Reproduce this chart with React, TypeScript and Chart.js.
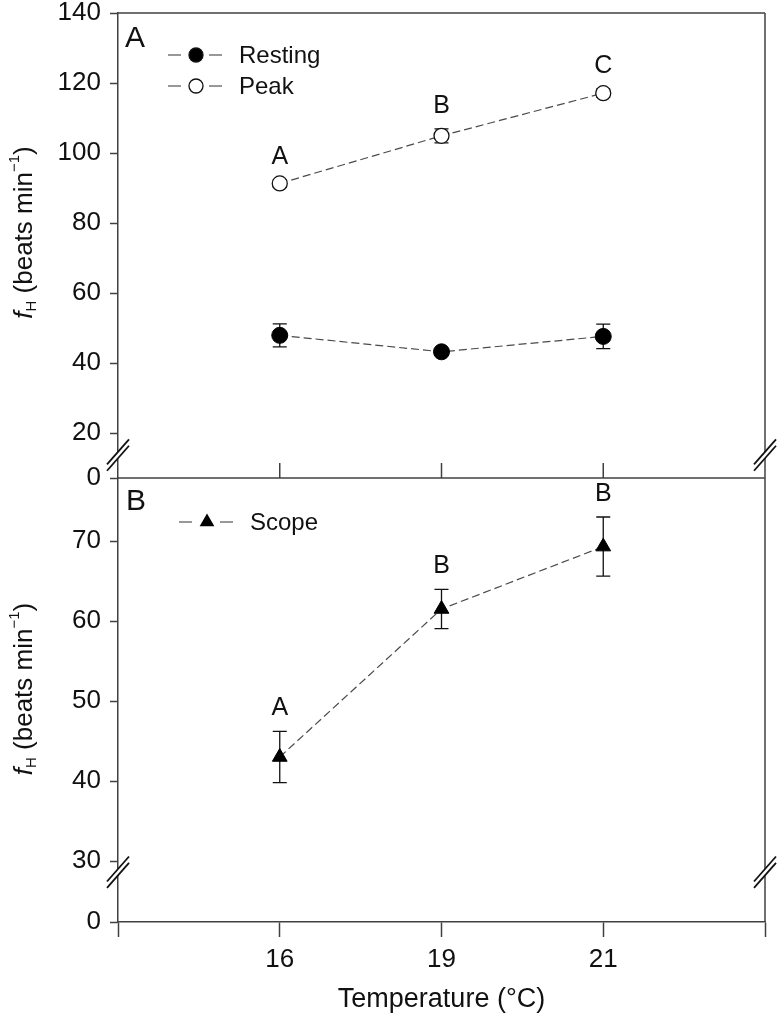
import React, { useEffect, useRef } from "react";
import { Chart, registerables } from "chart.js";

Chart.register(...registerables);

// ---------- data ----------
const temperatures = ["16", "19", "21"];
const restingMean = [47.9, 43.2, 47.6];
const restingSE = [3.3, 1.0, 3.5];
const peakMean = [91.3, 104.9, 117.1];
const peakSE = [1.0, 2.0, 1.2];
const peakLetters = ["A", "B", "C"];
const scopeMean = [43.0, 61.5, 69.3];
const scopeSE = [3.2, 2.45, 3.7];
const scopeLetters = ["A", "B", "B"];
const yTicksA = [20, 40, 60, 80, 100, 120, 140];
const yTicksB = [30, 40, 50, 60, 70];
// broken axes: the lowest value of each axis is labelled "0"
const yMinA = 7.143;
const yMaxA = 140;
const yMinB = 22.375;
const yMaxB = 77.875;
const breakA = 13.7;
const breakB = 28.6;

const FONT = '"Liberation Sans", Arial, Helvetica, sans-serif';
const TXT = "#111";
const AX = "#404040";
const LINE = "#4a4a4a";

Chart.defaults.font.family = FONT;

type Pt = { x: number; y: number };
const toPts = (arr: number[]): Pt[] => arr.map((v, i) => ({ x: i, y: v }));

function drawBreak(ctx: CanvasRenderingContext2D, x: number, y: number) {
  const gap = 3.2;
  const dx = 11;
  const dy = 12.5;
  ctx.save();
  ctx.fillStyle = "#fff";
  ctx.beginPath();
  ctx.moveTo(x - dx, y + dy - gap);
  ctx.lineTo(x + dx, y - dy - gap);
  ctx.lineTo(x + dx, y - dy + gap);
  ctx.lineTo(x - dx, y + dy + gap);
  ctx.closePath();
  ctx.fill();
  ctx.strokeStyle = "#111";
  ctx.lineWidth = 1.8;
  for (const s of [-gap, gap]) {
    ctx.beginPath();
    ctx.moveTo(x - dx, y + dy + s);
    ctx.lineTo(x + dx, y - dy + s);
    ctx.stroke();
  }
  ctx.restore();
}

function drawYTitle(ctx: CanvasRenderingContext2D, cx: number, cy: number) {
  const big = 26;
  const small = 15;
  const parts = [
    { t: "f", font: `italic ${big}px ${FONT}`, dy: 0 },
    { t: "H", font: `${small}px ${FONT}`, dy: 4 },
    { t: " (beats min", font: `${big}px ${FONT}`, dy: 0 },
    { t: "\u22121", font: `${small}px ${FONT}`, dy: -13 },
    { t: ")", font: `${big}px ${FONT}`, dy: 0 },
  ];
  ctx.save();
  let total = 0;
  const widths = parts.map((p) => {
    ctx.font = p.font;
    const w = ctx.measureText(p.t).width;
    total += w;
    return w;
  });
  ctx.translate(cx, cy);
  ctx.rotate(-Math.PI / 2);
  ctx.fillStyle = TXT;
  ctx.textBaseline = "alphabetic";
  ctx.textAlign = "left";
  let u = -total / 2;
  parts.forEach((p, i) => {
    ctx.font = p.font;
    ctx.fillText(p.t, u, 9 + p.dy);
    u += widths[i];
  });
  ctx.restore();
}

function drawMarker(ctx: CanvasRenderingContext2D, kind: string, x: number, y: number) {
  ctx.save();
  ctx.lineWidth = 1.3;
  ctx.strokeStyle = "#111";
  if (kind === "filled" || kind === "open") {
    ctx.beginPath();
    ctx.arc(x, y, 7, 0, Math.PI * 2);
    ctx.fillStyle = kind === "filled" ? "#000" : "#fff";
    ctx.fill();
    ctx.stroke();
  } else {
    const r = 8.5;
    ctx.beginPath();
    ctx.moveTo(x, y - r);
    ctx.lineTo(x + r * 0.866, y + r * 0.5);
    ctx.lineTo(x - r * 0.866, y + r * 0.5);
    ctx.closePath();
    ctx.fillStyle = "#000";
    ctx.fill();
  }
  ctx.restore();
}

function drawLegendRow(
  ctx: CanvasRenderingContext2D,
  kind: string,
  label: string,
  mx: number,
  y: number,
  tx: number
) {
  ctx.save();
  ctx.strokeStyle = "#333";
  ctx.lineWidth = 1.2;
  ctx.beginPath();
  ctx.moveTo(mx - 28, y);
  ctx.lineTo(mx - 15, y);
  ctx.moveTo(mx + 13, y);
  ctx.lineTo(mx + 26, y);
  ctx.stroke();
  drawMarker(ctx, kind, mx, y);
  ctx.fillStyle = TXT;
  ctx.font = `24px ${FONT}`;
  ctx.textBaseline = "middle";
  ctx.textAlign = "left";
  ctx.fillText(label, tx, y + 1);
  ctx.restore();
}

function errorBars(chart: any, means: number[][], ses: number[][]) {
  const ctx: CanvasRenderingContext2D = chart.ctx;
  const xs = chart.scales.x;
  const ys = chart.scales.y;
  ctx.save();
  ctx.strokeStyle = "#111";
  ctx.lineWidth = 1.3;
  means.forEach((m, k) => {
    m.forEach((v, i) => {
      const x = xs.getPixelForValue(i);
      const y1 = ys.getPixelForValue(v + ses[k][i]);
      const y2 = ys.getPixelForValue(v - ses[k][i]);
      ctx.beginPath();
      ctx.moveTo(x, y1);
      ctx.lineTo(x, y2);
      ctx.moveTo(x - 7, y1);
      ctx.lineTo(x + 7, y1);
      ctx.moveTo(x - 7, y2);
      ctx.lineTo(x + 7, y2);
      ctx.stroke();
    });
  });
  ctx.restore();
}

function sigLetters(chart: any, means: number[], ses: number[], letters: string[]) {
  const ctx: CanvasRenderingContext2D = chart.ctx;
  const xs = chart.scales.x;
  const ys = chart.scales.y;
  ctx.save();
  ctx.fillStyle = TXT;
  ctx.font = `25px ${FONT}`;
  ctx.textAlign = "center";
  ctx.textBaseline = "alphabetic";
  letters.forEach((l, i) => {
    const x = xs.getPixelForValue(i);
    const yc = ys.getPixelForValue(means[i] + ses[i]) - 25;
    ctx.fillText(l, x, yc + 9);
  });
  ctx.restore();
}

function line(ctx: CanvasRenderingContext2D, x1: number, y1: number, x2: number, y2: number) {
  ctx.beginPath();
  ctx.moveTo(x1, y1);
  ctx.lineTo(x2, y2);
  ctx.stroke();
}

const panelA = {
  id: "panelA",
  beforeDatasetsDraw(chart: any) {
    errorBars(chart, [restingMean, peakMean], [restingSE, peakSE]);
  },
  afterDraw(chart: any) {
    const ctx: CanvasRenderingContext2D = chart.ctx;
    const { left, right, top, bottom } = chart.chartArea;
    const xs = chart.scales.x;
    const ys = chart.scales.y;
    ctx.save();
    ctx.strokeStyle = AX;
    ctx.lineWidth = 1.5;
    line(ctx, left, top, right, top);
    line(ctx, right, top, right, bottom);
    line(ctx, left, bottom, right, bottom);
    temperatures.forEach((_, i) => {
      const x = xs.getPixelForValue(i);
      line(ctx, x, bottom, x, bottom - 15);
    });
    ctx.restore();
    const yb = ys.getPixelForValue(breakA);
    drawBreak(ctx, left, yb);
    drawBreak(ctx, right, yb);
    sigLetters(chart, peakMean, peakSE, peakLetters);
    drawLegendRow(ctx, "filled", "Resting", 196, 55, 239);
    drawLegendRow(ctx, "open", "Peak", 196, 86, 239);
    ctx.save();
    ctx.fillStyle = TXT;
    ctx.font = `30px ${FONT}`;
    ctx.textAlign = "left";
    ctx.textBaseline = "alphabetic";
    ctx.fillText("A", 125, 47);
    ctx.restore();
    drawYTitle(ctx, 23, (top + bottom) / 2 - 13);
  },
};

const panelB = {
  id: "panelB",
  beforeDatasetsDraw(chart: any) {
    errorBars(chart, [scopeMean], [scopeSE]);
  },
  afterDraw(chart: any) {
    const ctx: CanvasRenderingContext2D = chart.ctx;
    const { left, right, top, bottom } = chart.chartArea;
    const ys = chart.scales.y;
    ctx.save();
    ctx.strokeStyle = AX;
    ctx.lineWidth = 1.5;
    line(ctx, right, top, right, bottom);
    ctx.restore();
    const yb = ys.getPixelForValue(breakB);
    drawBreak(ctx, left, yb);
    drawBreak(ctx, right, yb);
    sigLetters(chart, scopeMean, scopeSE, scopeLetters);
    drawLegendRow(ctx, "tri", "Scope", 207, 522, 250);
    ctx.save();
    ctx.fillStyle = TXT;
    ctx.font = `30px ${FONT}`;
    ctx.textAlign = "left";
    ctx.textBaseline = "alphabetic";
    ctx.fillText("B", 126, 510);
    ctx.restore();
    drawYTitle(ctx, 23, (top + bottom) / 2 - 11);
  },
};

function yAxis(min: number, max: number, ticks: number[]) {
  return {
    type: "linear",
    position: "left",
    min,
    max,
    afterBuildTicks(s: any) {
      s.ticks = [min, ...ticks].map((v) => ({ value: v }));
    },
    afterFit(s: any) {
      s.width = 118;
      s.paddingTop = 0;
      s.paddingBottom = 0;
    },
    ticks: {
      font: { size: 26 },
      color: TXT,
      padding: 9,
      callback: (v: number, i: number) => (i === 0 ? "0" : String(v)),
    },
    grid: {
      drawOnChartArea: false,
      drawTicks: true,
      tickLength: 8,
      color: AX,
      tickWidth: 1.5,
    },
    border: { display: true, color: AX, width: 1.5 },
  };
}

const commonLine = {
  borderColor: LINE,
  borderWidth: 1.2,
  borderDash: [8, 4],
  tension: 0,
  fill: false,
};

function makeA(canvas: HTMLCanvasElement) {
  return new Chart(canvas, {
    type: "line",
    data: {
      datasets: [
        {
          label: "Resting",
          data: toPts(restingMean),
          ...commonLine,
          pointRadius: 8,
          pointBackgroundColor: "#000",
          pointBorderColor: "#000",
          pointBorderWidth: 1,
        },
        {
          label: "Peak",
          data: toPts(peakMean),
          ...commonLine,
          pointRadius: 7.5,
          pointBackgroundColor: "#fff",
          pointBorderColor: "#111",
          pointBorderWidth: 1.3,
        },
      ],
    } as any,
    options: {
      responsive: false,
      animation: false,
      devicePixelRatio: 1,
      events: [],
      layout: { padding: { top: 13, right: 13, bottom: 539, left: 0 } },
      plugins: { legend: { display: false }, tooltip: { enabled: false } },
      scales: {
        x: { type: "linear", min: -1, max: 3, display: false },
        y: yAxis(yMinA, yMaxA, yTicksA),
      } as any,
    },
    plugins: [panelA],
  });
}

function makeB(canvas: HTMLCanvasElement) {
  return new Chart(canvas, {
    type: "line",
    data: {
      datasets: [
        {
          label: "Scope",
          data: toPts(scopeMean),
          ...commonLine,
          pointStyle: "triangle",
          pointRadius: 8.5,
          pointBackgroundColor: "#000",
          pointBorderColor: "#000",
          pointBorderWidth: 1,
        },
      ],
    } as any,
    options: {
      responsive: false,
      animation: false,
      devicePixelRatio: 1,
      events: [],
      layout: { padding: { top: 478, right: 13, bottom: 0, left: 0 } },
      plugins: { legend: { display: false }, tooltip: { enabled: false } },
      scales: {
        x: {
          type: "linear",
          position: "bottom",
          min: -1,
          max: 3,
          afterBuildTicks(s: any) {
            s.ticks = [-1, 0, 1, 2, 3].map((v) => ({ value: v }));
          },
          afterFit(s: any) {
            s.height = 95;
            s.paddingLeft = 0;
            s.paddingRight = 0;
          },
          ticks: {
            font: { size: 26 },
            color: TXT,
            padding: 7,
            autoSkip: false,
            maxRotation: 0,
            callback: (v: number) => temperatures[v] ?? "",
          },
          grid: {
            drawOnChartArea: false,
            drawTicks: true,
            tickLength: 15,
            color: AX,
            tickWidth: 1.5,
          },
          border: { display: true, color: AX, width: 1.5 },
          title: {
            display: true,
            text: "Temperature (\u00B0C)",
            font: { size: 27 },
            color: TXT,
            padding: { top: 0, bottom: 1 },
          },
        },
        y: yAxis(yMinB, yMaxB, yTicksB),
      } as any,
    },
    plugins: [panelB],
  });
}

export default function App() {
  const refA = useRef<HTMLCanvasElement>(null);
  const refB = useRef<HTMLCanvasElement>(null);
  useEffect(() => {
    if (!refA.current || !refB.current) return;
    const a = makeA(refA.current);
    const b = makeB(refB.current);
    return () => {
      a.destroy();
      b.destroy();
    };
  }, []);
  const cs: React.CSSProperties = { position: "absolute", left: 0, top: 0 };
  return (
    <div
      style={{
        position: "absolute",
        left: 0,
        top: 0,
        width: 778,
        height: 1017,
        background: "#fff",
        overflow: "hidden",
      }}
    >
      <canvas ref={refA} width={778} height={1017} style={cs} />
      <canvas ref={refB} width={778} height={1017} style={cs} />
    </div>
  );
}
